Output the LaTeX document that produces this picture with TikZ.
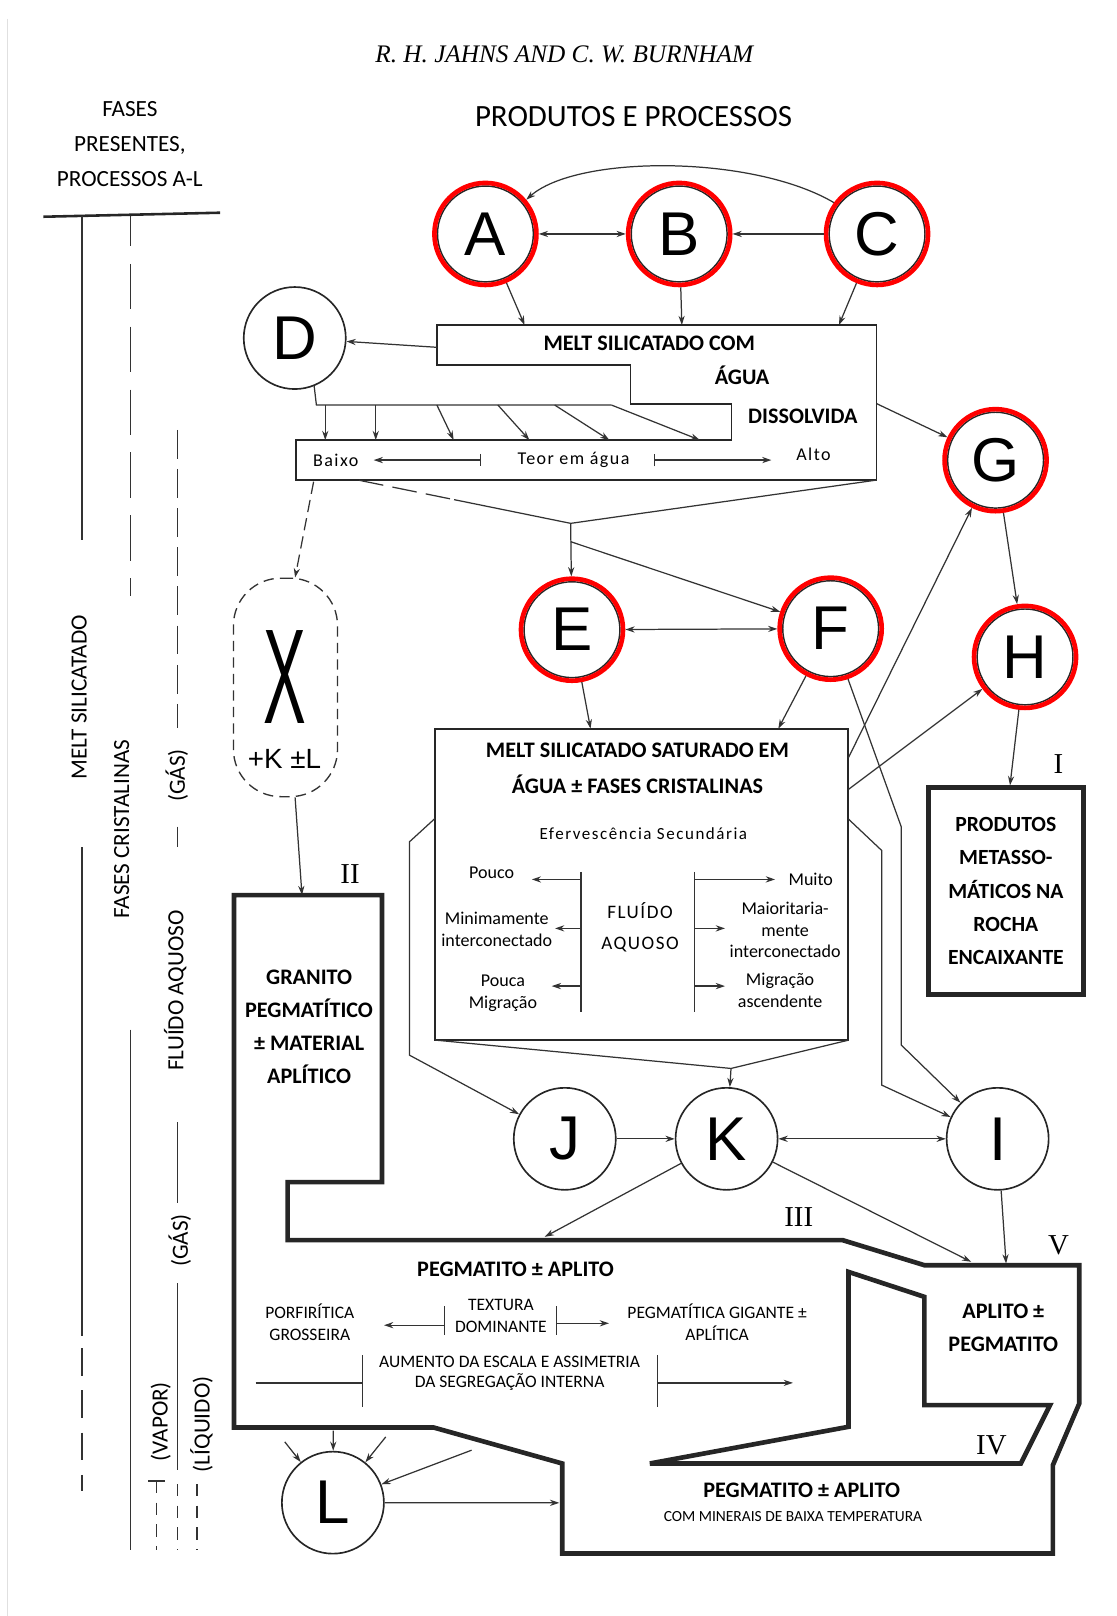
\documentclass[tikz,border=0pt]{standalone}
\usepackage{fontspec}
\setmainfont{Carlito}
\newfontfamily\letfont{Liberation Sans}
\newfontfamily\serfont{Liberation Serif}
\usetikzlibrary{arrows.meta}

\tikzset{
  >={Stealth[length=9pt,width=6pt]},
  conn/.style={draw=black!80, line width=1.2pt},
  heavy/.style={draw=black!85, line width=4.5pt, line join=miter},
  proc/.style={circle, draw=black!85, line width=1.6pt, minimum size=99pt, inner sep=0pt,
    font=\letfont\fontsize{60}{60}\selectfont},
  redproc/.style={proc, draw=red, line width=4.5pt,
    path picture={\draw[black!85, line width=1.4pt] (path picture bounding box.center) circle (46.5pt);}},
  ttl/.style={font=\bfseries\fontsize{21.5}{32.3}\selectfont, align=center, inner sep=0pt},
  lbl/.style={font=\fontsize{17.5}{21}\selectfont, align=center, inner sep=0pt},
  colt/.style={font=\fontsize{22.5}{22.5}\selectfont, rotate=90, inner sep=0pt},
  roman/.style={font=\serfont\fontsize{28}{28}\selectfont, inner sep=0pt}
}

\begin{document}
\begin{tikzpicture}[x=1pt, y=-1pt]
\useasboundingbox (0,0) rectangle (1083,1568);
\draw[black!12, line width=1pt] (7,18) -- (7,1568);

\node[font=\serfont\itshape\fontsize{24.5}{24.5}\selectfont, inner sep=0pt] (author) at (547.5,52.5) {R. H. JAHNS AND C. W. BURNHAM};
\node[font=\fontsize{30}{30}\selectfont, inner sep=0pt] (title) at (614.7,113.2) {PRODUTOS E PROCESSOS};
\node[font=\fontsize{22.5}{33.9}\selectfont, align=center, inner sep=0pt] (fases) at (126,140) {FASES\\PRESENTES,\\PROCESSOS A-L};

% colunas das fases
\draw[black!85, line width=2.5pt] (42,210.3) -- (213.5,206.4);
\begin{scope}[conn, line width=1.3pt]
  \draw (79.5,210) -- (79.5,524);
  \draw (79.5,822) -- (79.5,1296);
  \draw[dash pattern=on 27pt off 14pt] (79.5,1308) -- (79.5,1447);
  \draw[dash pattern=on 44pt off 17pt, dash phase=15pt] (126.5,210) -- (126.5,578);
  \draw (126.5,999) -- (126.5,1504);
  \draw[dash pattern=on 28pt off 10pt] (172,417) -- (172,706);
  \draw (172,802) -- (172,822);
  \draw (172,1089) -- (172,1167);
  \draw (172,1245) -- (172,1426);
  \draw (144,1437) -- (160,1437);
  \draw[dash pattern=on 12pt off 9pt] (152,1437) -- (152,1504);
  \draw[dash pattern=on 12pt off 9pt] (172,1440) -- (172,1504);
  \draw[dash pattern=on 12pt off 9pt] (191,1440) -- (191,1504);
\end{scope}
\node[colt] (meltcol) at (76.8,676.5) {MELT SILICATADO};
\node[colt] (cristcol) at (118,804.5) {FASES CRISTALINAS};
\node[colt] (gas1) at (171.5,752.5) {(GÁS)};
\node[colt] (aquosocol) at (170,961) {FLUÍDO AQUOSO};
\node[colt] (gas2) at (174.5,1203.5) {(GÁS)};
\node[colt] (vapor) at (156,1379.5) {(VAPOR)};
\node[colt] (liquido) at (195.5,1382) {(LÍQUIDO)};

% processos
\node[redproc] (A) at (471,227) {A};
\node[redproc] (B) at (659,227) {B};
\node[redproc] (C) at (851,227) {C};
\node[proc] (D) at (286,328) {D};
\node[redproc] (G) at (966,446.5) {G};
\node[redproc] (E) at (555,611) {E};
\node[redproc] (F) at (806,610) {F};
\node[redproc] (H) at (994.6,637.4) {H};
\node[proc] (J) at (548,1105) {J};
\node[proc] (K) at (705,1105) {K};
\node[proc] (I) at (968,1105) {I};
\node[proc] (L) at (323,1458) {L};

\draw[conn,<->] (A) -- (B);
\draw[conn,->] (C) -- (B);
\draw[conn,->] (C.144) .. controls (730,150) and (560,150) .. (A.40);
\coordinate (aIn) at (509,315.4);
\coordinate (bIn) at (661.6,315.4);
\coordinate (cIn) at (814,315.4);
\draw[conn,->] (A) -- (aIn);
\draw[conn,->] (B) -- (bIn);
\draw[conn,->] (C) -- (cIn);

% melt silicatado com agua dissolvida
\draw[black!85, line width=1.6pt] (424,315.4) -- (850.6,315.4) -- (850.6,465.8) -- (287,465.8)
  -- (287,427) -- (709.8,427) -- (709.8,392) -- (611.7,392) -- (611.7,354.2) -- (424,354.2) -- cycle;
\node[ttl] (melt1) at (630,333) {MELT SILICATADO COM};
\node[ttl] (melt2) at (720,364) {ÁGUA};
\node[ttl] (melt3) at (779,404) {DISSOLVIDA};
\coordinate (meltW) at (424,337);
\draw[conn,->] (meltW) -- (D);
\coordinate (dbend) at (307,393);
\coordinate (dend) at (593.3,393);
\draw[conn] (D.-68) -- (dbend) -- (dend);
\foreach \sx/\ex [count=\i] in {315.6/315.6, 364.6/364.6, 423.9/440.2, 483.1/513.7, 538.2/591.3, 593.3/679.1}{
  \coordinate (ds\i) at (\sx,393);
  \coordinate (de\i) at (\ex,427);
  \draw[conn,->] (ds\i) -- (de\i);
}
\node[lbl, font=\addfontfeature{LetterSpace=8}\fontsize{17.5}{21}\selectfont] (baixo) at (325.8,446.4) {Baixo};
\node[lbl, font=\addfontfeature{LetterSpace=8}\fontsize{17.5}{21}\selectfont] (teor) at (556.5,446.4) {Teor em água};
\node[lbl, font=\addfontfeature{LetterSpace=8}\fontsize{17.5}{21}\selectfont] (alto) at (789.3,440.6) {Alto};
\coordinate (tl1) at (466.7,446.4);
\coordinate (tl2) at (362.5,446.4);
\coordinate (tr1) at (634.2,446.4);
\coordinate (tr2) at (748.5,446.4);
\draw[conn,{Bar[width=12pt]}->] (tl1) -- (tl2);
\draw[conn,{Bar[width=12pt]}->] (tr1) -- (tr2);
\coordinate (meltE) at (850.7,391.7);
\draw[conn,->] (meltE) -- (G);

\coordinate (dashS) at (348.4,466);
\coordinate (dashM) at (440.6,484.8);
\coordinate (apex) at (553.7,507.8);
\coordinate (meltSE) at (850.6,465.8);
\coordinate (fork) at (553.7,525.6);
\draw[conn, dash pattern=on 24pt off 9pt] (dashS) -- (dashM);
\draw[conn] (dashM) -- (apex) -- (meltSE);
\draw[conn,->] (apex) -- (E);
\draw[conn,->] (fork) -- (F);
\draw[conn,<->] (E) -- (F);
\draw[conn,->] (G) -- (H);

% X +K +-L
\node[draw=black!80, line width=1.3pt, dash pattern=on 10pt off 6pt, rounded corners=46pt,
  minimum width=101pt, minimum height=212pt, inner sep=0pt] (xcap) at (277,667) {};
\node[font=\letfont\fontsize{46}{46}\selectfont, inner sep=0pt] (xlet) at (276.5,657) {\scalebox{1.35}[2.85]{X}};
\node[font=\letfont\fontsize{27}{27}\selectfont, inner sep=0pt] (kl) at (276,736) {+K ±L};
\coordinate (baixoS) at (304.3,467.4);
\draw[conn,->, dash pattern=on 12pt off 6pt] (baixoS) -- (xcap.85);
\coordinate (iiTop) at (293,868.5);
\draw[conn,->] (xcap.-85) -- (iiTop);

% melt saturado em agua
\node[draw=black!85, line width=1.8pt, minimum width=401pt, minimum height=302pt, inner sep=0pt] (sat) at (622.6,858) {};
\node[ttl] (sat1) at (618.5,728.4) {MELT SILICATADO SATURADO EM};
\node[ttl] (sat2) at (618.5,760.8) {ÁGUA ± FASES CRISTALINAS};
\node[lbl, font=\addfontfeature{LetterSpace=9}\fontsize{16.5}{20}\selectfont] (efer) at (624.3,808.7) {Efervescência Secundária};
\node[lbl, font=\addfontfeature{LetterSpace=8}\fontsize{18.5}{30}\selectfont] (fluido) at (621,899.8) {FLUÍDO\\AQUOSO};
\node[lbl] (pouco) at (477.1,846.8) {Pouco};
\node[lbl] (minim) at (482,901.7) {Minimamente\\interconectado};
\node[lbl] (pouca) at (488,964) {Pouca\\Migração};
\node[lbl] (muito) at (786.7,853.3) {Muito};
\node[lbl] (maior) at (761.8,902.5) {Maioritaria-\\mente\\interconectado};
\node[lbl] (migr) at (756.9,960.9) {Migração\\ascendente};
\coordinate (barLt) at (563.8,845.9);
\coordinate (barLb) at (563.8,981.7);
\coordinate (barRt) at (673.5,845.9);
\coordinate (barRb) at (673.5,981.7);
\draw[conn] (barLt) -- (barLb);
\draw[conn] (barRt) -- (barRb);
\draw[conn,->] (barLt |- 0,853.3) -- (516,853.3);
\draw[conn,->] (barLt |- 0,900.8) -- (538.6,900.8);
\draw[conn,->] (barLt |- 0,956.8) -- (535.3,956.8);
\draw[conn,->] (barRt |- 0,853.3) -- (752,853.3);
\draw[conn,->] (barRt |- 0,900.8) -- (703.5,900.8);
\draw[conn,->] (barRt |- 0,956.8) -- (703.5,956.8);

\coordinate (eIn) at (573,707);
\coordinate (fIn) at (755.2,707);
\draw[conn,->] (E) -- (eIn);
\draw[conn,->] (F) -- (fIn);
\coordinate (fr1) at (874.5,802.3);
\coordinate (fr2) at (874.5,1014);
\draw[conn,->] (F.-71) -- (fr1) -- (fr2) -- (I);
\coordinate (satG) at (823.2,735.2);
\coordinate (satH) at (823.2,766);
\draw[conn,->] (satG) -- (G);
\draw[conn,->] (satH) -- (H);
\coordinate (si0) at (823.2,794.7);
\coordinate (si1) at (855.6,825.3);
\coordinate (si2) at (855.6,1052.9);
\draw[conn,->] (si0) -- (si1) -- (si2) -- (I);
\coordinate (sj0) at (422.1,794.1);
\coordinate (sj1) at (397.3,816.8);
\coordinate (sj2) at (397.3,1023.8);
\draw[conn,->] (sj0) -- (sj1) -- (sj2) -- (J);
\coordinate (satSW) at (422.4,1009.2);
\coordinate (satSE) at (823.5,1009.2);
\coordinate (kTop) at (709.3,1036.7);
\draw[conn] (satSW) -- (kTop) -- (satSE);
\draw[conn,->] (kTop) -- (K);
\draw[conn,->] (J) -- (K);
\draw[conn,<->] (K) -- (I);

% produtos metassomaticos
\node[draw=black!85, line width=4.5pt, minimum width=150pt, minimum height=201pt, inner sep=0pt,
  font=\bfseries\fontsize{21}{32.2}\selectfont, align=center] (prod) at (976,864.6)
  {PRODUTOS\\METASSO-\\MÁTICOS NA\\ROCHA\\ENCAIXANTE};
\coordinate (prodIn) at (980,762);
\draw[conn,->] (H) -- (prodIn);

% corpos II a V
\draw[heavy] (227,868.5) -- (370.6,868.5) -- (370.6,1147) -- (279.1,1147) -- (279.1,1203.3)
  -- (817.6,1203.3) -- (896.9,1227.6) -- (1047.2,1227.6) -- (1047.2,1361.8) -- (1021.6,1421.6)
  -- (1021.6,1507.4) -- (545.5,1507.4) -- (545.5,1420) -- (420.8,1385.1) -- (227,1385.1) -- cycle;
\draw[heavy] (823.3,1234.1) -- (896.9,1258.3) -- (896.9,1363.4) -- (1018.8,1363.4) -- (990.5,1420)
  -- (630.6,1420) -- (823.3,1384.4) -- cycle;
\node[roman] (rI) at (1027,741) {I};
\node[roman] (rII) at (339.6,848.4) {II};
\node[roman] (rIII) at (775,1180.6) {III};
\node[roman] (rIV) at (962,1402) {IV};
\node[roman] (rV) at (1027,1208) {V};

\node[ttl] (granito) at (299.9,996.3) {GRANITO\\PEGMATÍTICO\\± MATERIAL\\APLÍTICO};
\node[ttl] (peg1) at (500.2,1231.8) {PEGMATITO ± APLITO};
\node[ttl] (aplito) at (973.5,1288.2) {APLITO ±\\PEGMATITO};
\node[ttl] (peg2) at (777.9,1445.9) {PEGMATITO ± APLITO};
\node[lbl, font=\fontsize{15}{15}\selectfont] (minerais) at (769.4,1471.8) {COM MINERAIS DE BAIXA TEMPERATURA};
\node[lbl, font=\fontsize{17}{21.9}\selectfont] (porf) at (300.6,1282.8) {PORFIRÍTICA\\GROSSEIRA};
\node[lbl, font=\fontsize{17}{21}\selectfont] (textura) at (486,1276.9) {TEXTURA\\DOMINANTE};
\node[lbl, font=\fontsize{17}{21.3}\selectfont] (gigante) at (695.8,1282.5) {PEGMATÍTICA GIGANTE ±\\APLÍTICA};
\node[lbl, font=\fontsize{17}{19.4}\selectfont] (aumento) at (494.5,1332.7) {AUMENTO DA ESCALA E ASSIMETRIA\\DA SEGREGAÇÃO INTERNA};
\coordinate (txL) at (431,1267.5);
\coordinate (txR) at (539.8,1267.5);
\draw[conn] (txL) -- (431,1295);
\draw[conn] (txR) -- (539.8,1295);
\coordinate (porfE) at (372.6,1285.8);
\coordinate (gigW) at (590.9,1284);
\draw[conn,->] (txL |- porfE) -- (porfE);
\draw[conn,->] (txR |- gigW) -- (gigW);
\coordinate (auL) at (351.7,1314.9);
\coordinate (auR) at (637.9,1314.9);
\draw[conn] (auL) -- (351.7,1365.1);
\draw[conn] (auR) -- (637.9,1365.1);
\coordinate (auS) at (248,1341.8);
\coordinate (auE) at (769.4,1341.8);
\draw[conn] (auS) -- (auL |- auS);
\draw[conn,->] (auR |- auE) -- (auE);

\coordinate (k3) at (528.5,1200.1);
\coordinate (k5) at (942.3,1224.3);
\coordinate (i5) at (976.2,1226);
\draw[conn,->] (K) -- (k3);
\draw[conn,->] (K) -- (k5);
\draw[conn,->] (I) -- (i5);

\coordinate (lin1) at (276.3,1399);
\coordinate (lin2) at (323.4,1388);
\coordinate (lin3) at (374.3,1394.2);
\coordinate (lin4) at (457.6,1407.1);
\foreach \i in {1,...,4}
  \draw[conn,->] (lin\i) -- (L);
\coordinate (lOut) at (542.7,1458.2);
\draw[conn,->] (L) -- (lOut);
\end{tikzpicture}
\end{document}
